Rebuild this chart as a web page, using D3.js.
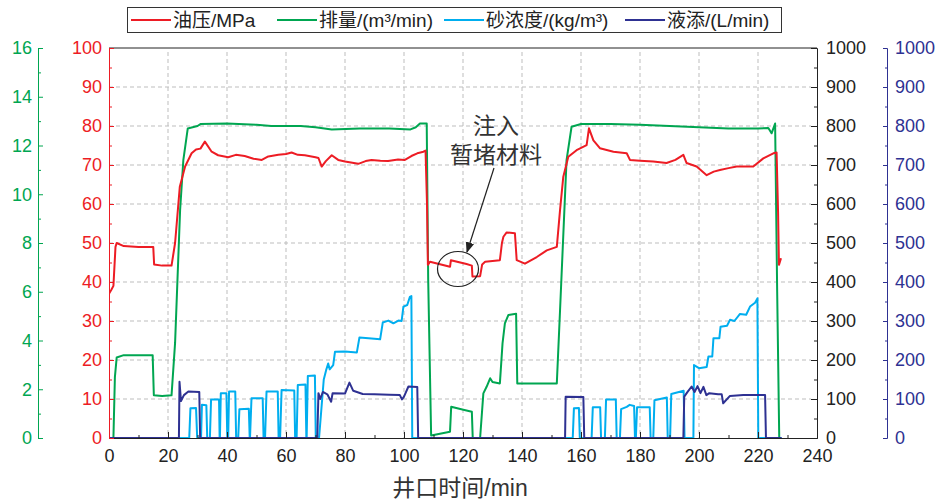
<!DOCTYPE html>
<html>
<head>
<meta charset="utf-8">
<script src="https://cdn.jsdelivr.net/npm/d3@7"></script>
<style>
  body { margin: 0; background: #fff; }
  svg text { font-family: "Liberation Sans", Arial, "Noto Sans CJK SC", sans-serif; }
  .cjk { font-family: "Liberation Sans", "Noto Sans CJK SC", sans-serif; }
</style>
</head>
<body>
<div id="chart"></div>
<script>
// 油压 / MPa  [t(min), value]
var pressure = [[0,37],[0.8,38],[1.5,39],[2.2,49],[2.6,50],[5,49.2],[10,49],[15,49],[15.3,44.5],[18,44.2],[21.2,44.2],
  [22.4,50],[24,64.4],[25.8,69.6],[28,73],[29.5,74],[31,74.2],[32.5,76],[34.8,73.4],[37,72.5],[40.4,72],[43,72.6],
  [46,72.3],[49,71.6],[51.8,71.3],[54,72.2],[57.4,72.6],[60,72.8],[61.9,73.2],[64,72.6],[66.4,72.5],[70,72],[71,71.8],
  [72.1,69.6],[73.5,71],[75.5,72.5],[77.7,71.3],[80,70.9],[84.5,70.3],[87,71],[89,71.3],[92,71.1],[94.6,71],[98,71.4],
  [100.3,71.3],[102.5,72.3],[104.5,73],[106.6,73.4],[107.3,73.7],[107.8,60],[108.1,44.4],[108.8,45.2],[115.6,43.9],
  [115.9,45.6],[121.2,44.6],[123,44.2],[123.2,41.4],[125.8,41.5],[126.5,44.5],[127.5,45.2],[132.5,45.6],[133.2,50],
  [133.7,51.6],[134.8,52.7],[137.6,52.5],[138.2,45.6],[141,44.7],[145,46.4],[148.4,48.1],[151.8,49],[152.9,58.5],
  [154,67],[155.7,72.1],[158.5,73.8],[161.9,75.1],[162.7,79.4],[164.2,76.3],[166.4,74.3],[171,73.4],[175.5,73],
  [176.6,71.3],[180,71.1],[184.5,70.9],[189,70.5],[192,71.3],[194.7,72.6],[195.8,70.5],[199.2,69.6],[202.6,67.4],
  [205,68.3],[207.1,68.7],[210,69.2],[212.8,69.6],[218.4,69.6],[221.8,71.7],[225.2,73],[226.3,73.2],[226.8,58],
  [227.1,44.4],[227.8,46.1]];

// 排量 / (m3/min)
var rate = [[1.5,0],[2,2.5],[2.6,3.3],[5,3.4],[10,3.4],[14.8,3.4],[15.2,1.75],[18,1.72],[21.2,1.75],[22.4,3.9],
  [24.1,9.35],[25.2,11.4],[26.7,12.7],[30,12.8],[31,12.88],[40,12.9],[50,12.85],[55,12.8],[65,12.8],[70,12.75],
  [75.5,12.66],[85,12.7],[95,12.7],[102.2,12.66],[104,12.75],[105.4,12.9],[107.7,12.9],[108.2,6.5],[109.2,0.1],
  [115.6,0.26],[116,1.28],[120.1,1.16],[123,1.08],[123.3,0],[125.8,0],[126.9,1.83],[128,2.1],[129.2,2.45],[130,2.3],
  [132.5,2.24],[133.4,3.88],[134.2,4.7],[135.4,5.05],[138,5.1],[138.4,2.24],[145,2.24],[151.8,2.24],[152.9,5.25],
  [155.1,11.4],[156.8,12.77],[160,12.88],[170,12.88],[180,12.85],[190,12.8],[200,12.75],[210,12.7],[220,12.7],
  [223.5,12.72],[224.6,12.5],[225.8,12.9],[226.5,6],[227.2,0]];

// 砂浓度 / (kg/m3)
var sand = [[0,0],[27.2,0],[27.6,76],[29.5,77],[29.9,0],[31.2,0],[31.5,85],[33,84],[33.3,0],[34.2,0],[34.6,99],
  [37.3,99],[37.5,0],[37.6,0],[37.9,115],[39.8,115],[40.1,0],[40.4,0],[40.7,119],[42.8,119],[43.1,0],[43.8,0],
  [44.2,74],[47.4,75],[47.7,0],[47.8,0],[48.3,102],[52.1,102],[52.4,0],[52.9,0],[53.4,119],[57.2,119],[57.5,0],
  [58,0],[58.5,123],[62.8,122],[63.1,0],[63.6,0],[64,136],[66.6,137],[66.9,0],[67,0],[67.4,159],[69.8,160],[70.1,0],
  [71.2,0],[72.8,150],[73.6,174],[74.3,191],[74.8,176],[76,187],[76.6,221],[80,222],[84,219],[84.9,258],[88,256],
  [91.9,253],[92.8,296],[94.7,301],[96.4,294],[98.1,301],[99.2,300],[99.8,337],[101.1,341],[102,362],[102.5,364],
  [102.8,0],[157.2,0],[157.6,76],[159.3,77],[159.6,0],[163.6,0],[164,79],[166.5,79],[166.8,0],[168.1,0],[168.5,99],
  [171.8,99],[172.1,0],[173.2,0],[173.6,74],[175.5,80],[176.5,85],[178,82],[178.3,0],[178.6,0],[179,79],[183.3,79],
  [183.6,0],[184.5,0],[184.9,97],[189.1,104],[189.4,0],[190.2,0],[190.6,113],[194.8,121],[195.1,0],[198.1,0],
  [198.3,187],[200,179],[202.6,182],[203.2,209],[204.5,209],[204.9,256],[206.9,256],[207.3,285],[209.5,288],
  [210.5,303],[212,300],[213.9,318],[216,316],[217.3,337],[219,347],[219.8,358],[220.1,0],[228,0]];

// 液添 / (L/min)
var additive = [[0,0],[23.7,0],[23.9,144],[24.4,95],[25.4,110],[26.9,119],[30.6,118],[30.9,0],[70.6,0],[71,115],
  [71.6,100],[72.5,118],[74,112],[75.3,93],[75.8,115],[80,114],[81.5,142],[82.8,121],[86,113],[90,112],[95,111],
  [98.6,110],[99.3,99],[100,106],[101.5,132],[104.5,131],[104.8,0],[154.6,0],[154.8,106],[160.8,105],[161.1,0],
  [194.7,0],[195,106],[196,117],[197.5,132],[198.5,118],[199.5,133],[200.5,115],[201.5,131],[202.5,110],[203.5,115],
  [206.5,112],[207.7,112],[208.2,89],[210.5,108],[215,110],[222.4,110],[222.7,0],[228,0]];

var xTicks = d3.range(0, 241, 20);
var redTicks = d3.range(0, 101, 10);
var greenTicks = d3.range(0, 17, 2);
var rightTicks = d3.range(0, 1001, 100);

var legendNames = ["油压/MPa", "排量/(m³/min)", "砂浓度/(kg/m³)", "液添/(L/min)"];
var colors = ["#ed1c24", "#00a651", "#00aeef", "#2e3192"];

var W = 938, H = 501;
var svg = d3.select("#chart").append("svg").attr("width", W).attr("height", H);

var x = d3.scaleLinear().domain([0, 240]).range([109, 817]);
var yRed = d3.scaleLinear().domain([0, 100]).range([438, 48]);
var yGreen = d3.scaleLinear().domain([0, 16]).range([438, 48]);
var yRight = d3.scaleLinear().domain([0, 1000]).range([438, 48]);

// grid
svg.append("g").selectAll("line").data(redTicks.slice(1, -1)).enter().append("line")
  .attr("x1", 109).attr("x2", 811).attr("y1", d => yRed(d)).attr("y2", d => yRed(d))
  .attr("stroke", "#bdbdbd").attr("stroke-dasharray", "4,3");
svg.append("g").selectAll("line").data(xTicks.slice(1, -1)).enter().append("line")
  .attr("y1", 52).attr("y2", 438).attr("x1", d => x(d)).attr("x2", d => x(d))
  .attr("stroke", "#bdbdbd").attr("stroke-dasharray", "4,3");

// top frame
svg.append("line").attr("x1", 109).attr("x2", 817).attr("y1", 48).attr("y2", 48).attr("stroke", "#222");

svg.append("clipPath").attr("id", "clip").append("rect").attr("x", 109).attr("y", 46).attr("width", 708).attr("height", 393);
var plot = svg.append("g").attr("clip-path", "url(#clip)");

function draw(data, y, color) {
  plot.append("path").datum(data)
    .attr("fill", "none").attr("stroke", color).attr("stroke-width", 2).attr("stroke-linejoin", "round")
    .attr("d", d3.line().x(d => x(d[0])).y(d => y(d[1])));
}
draw(rate, yGreen, colors[1]);
draw(pressure, yRed, colors[0]);
draw(sand, yRight, colors[2]);
draw(additive, yRight, colors[3]);

function styleAxis(g, color) {
  g.selectAll(".domain").attr("stroke", color);
  g.selectAll(".tick line").attr("stroke", color);
  g.selectAll("text").attr("fill", color).attr("font-size", "18px");
}

// bottom axis
var gx = svg.append("g").attr("transform", "translate(0,438)");
gx.call(d3.axisBottom(x).tickValues(xTicks).tickSize(-6).tickPadding(11).tickSizeOuter(0));
gx.append("g").call(d3.axisBottom(x).tickValues(d3.range(10, 240, 20)).tickSize(-3).tickFormat("").tickSizeOuter(0));
styleAxis(gx, "#222");

// red left axis
var gr = svg.append("g").attr("transform", "translate(109,0)");
gr.call(d3.axisLeft(yRed).tickValues(redTicks).tickSize(-5).tickPadding(7).tickSizeOuter(0));
gr.append("g").call(d3.axisLeft(yRed).tickValues(d3.range(5, 100, 10)).tickSize(-3).tickFormat("").tickSizeOuter(0));
styleAxis(gr, colors[0]);

// green axis
var gg = svg.append("g").attr("transform", "translate(38,0)");
gg.call(d3.axisLeft(yGreen).tickValues(greenTicks).tickSize(-5).tickPadding(6).tickSizeOuter(0));
gg.append("g").call(d3.axisLeft(yGreen).tickValues(d3.range(1, 16, 2)).tickSize(-3).tickFormat("").tickSizeOuter(0));
styleAxis(gg, colors[1]);

// black right axis
var gk = svg.append("g").attr("transform", "translate(817,0)");
gk.call(d3.axisRight(yRight).tickValues(rightTicks).tickFormat(d3.format("d")).tickSize(-6).tickPadding(9).tickSizeOuter(0));
gk.append("g").call(d3.axisRight(yRight).tickValues(d3.range(50, 1000, 100)).tickSize(-3).tickFormat("").tickSizeOuter(0));
styleAxis(gk, "#222");

// blue right axis
var gb = svg.append("g").attr("transform", "translate(887,0)");
gb.call(d3.axisRight(yRight).tickValues(rightTicks).tickFormat(d3.format("d")).tickSize(-4).tickPadding(8).tickSizeOuter(0));
gb.append("g").call(d3.axisRight(yRight).tickValues(d3.range(50, 1000, 100)).tickSize(-2).tickFormat("").tickSizeOuter(0));
styleAxis(gb, colors[3]);

// x title
svg.append("text").attr("class", "cjk").attr("x", 460).attr("y", 496).attr("text-anchor", "middle")
  .attr("font-size", "23px").attr("fill", "#333").text("井口时间/min");

// legend
svg.append("rect").attr("x", 127.5).attr("y", 7.5).attr("width", 654).attr("height", 25)
  .attr("fill", "#fff").attr("stroke", "#333");
var legX = [131, 277, 444, 625];
legendNames.forEach(function(n, i) {
  svg.append("line").attr("x1", legX[i]).attr("x2", legX[i] + 40).attr("y1", 20).attr("y2", 20)
    .attr("stroke", colors[i]).attr("stroke-width", 2);
  svg.append("text").attr("class", "cjk").attr("x", legX[i] + 42).attr("y", 26.5)
    .attr("font-size", "19px").attr("fill", "#222").text(n);
});

// annotation
svg.append("defs").append("marker").attr("id", "arr").attr("viewBox", "0 0 10 10")
  .attr("refX", 9).attr("refY", 5).attr("markerWidth", 9).attr("markerHeight", 9).attr("orient", "auto")
  .append("path").attr("d", "M0,1 L10,5 L0,9 Z").attr("fill", "#222");
svg.append("line").attr("x1", 494).attr("y1", 168).attr("x2", 467).attr("y2", 252)
  .attr("stroke", "#222").attr("stroke-width", 1.2).attr("marker-end", "url(#arr)");
svg.append("ellipse").attr("cx", 458).attr("cy", 269).attr("rx", 20.5).attr("ry", 17.5)
  .attr("fill", "none").attr("stroke", "#222").attr("stroke-width", 1.2);
svg.append("text").attr("class", "cjk").attr("x", 496).attr("y", 134).attr("text-anchor", "middle")
  .attr("font-size", "23px").attr("fill", "#333").text("注入");
svg.append("text").attr("class", "cjk").attr("x", 496).attr("y", 163).attr("text-anchor", "middle")
  .attr("font-size", "23px").attr("fill", "#333").text("暂堵材料");
</script>
</body>
</html>
